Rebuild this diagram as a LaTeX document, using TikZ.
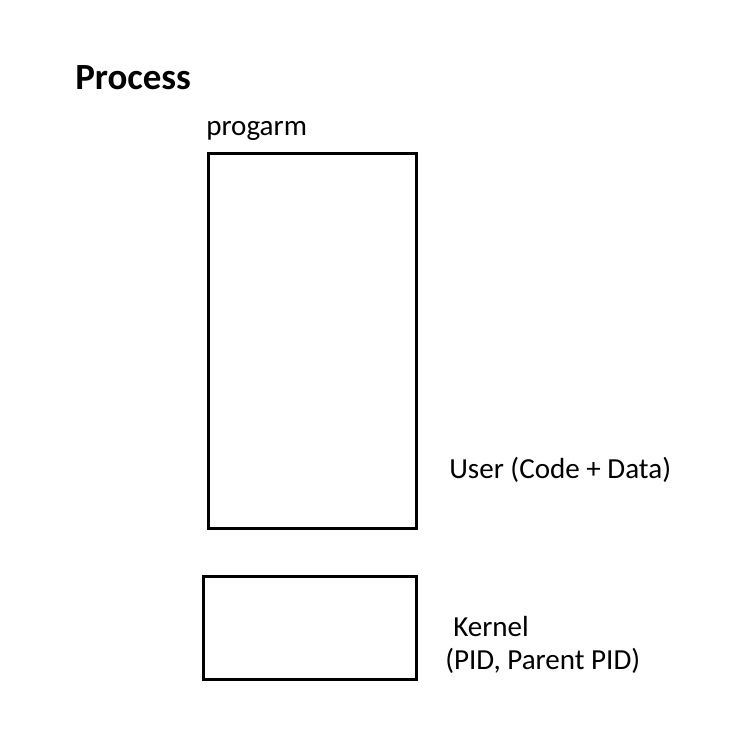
\documentclass[tikz,border=0pt]{standalone}
\usepackage{fontspec}
\setmainfont{Carlito}
\begin{document}
\begin{tikzpicture}[x=0.75pt,y=-0.75pt,
  box/.style={draw=black,line width=2.25pt},
  lbl/.style={inner sep=0pt,anchor=west,font=\fontsize{21.8}{26}\selectfont},
  title/.style={inner sep=0pt,anchor=west,font=\bfseries\fontsize{27.7}{33}\selectfont}]
\useasboundingbox (0,0) rectangle (756,742);
\node[title] (process) at (75,78) {Process};
\node[lbl] (prog) at (206,131) {progarm};
\draw[box] (208,153) rectangle (416,528);
\node[lbl] (user) at (449,470) {User (Code + Data)};
\draw[box] (203,576) rectangle (416,679);
\node[lbl] (kern) at (453,626) {Kernel};
\node[lbl] (pid) at (445,661) {(PID, Parent PID)};
\end{tikzpicture}
\end{document}
